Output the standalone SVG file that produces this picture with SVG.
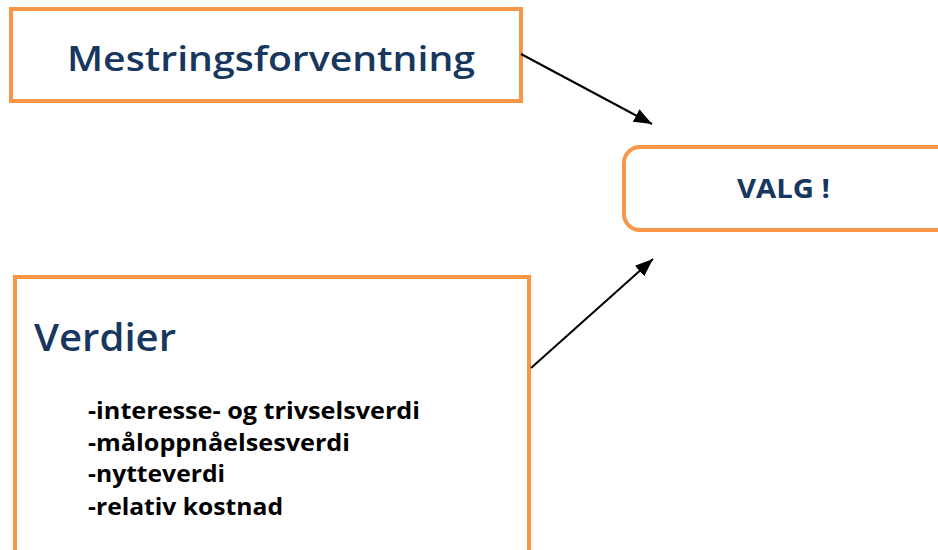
<svg xmlns="http://www.w3.org/2000/svg" width="938" height="550" viewBox="0 0 938 550">
<defs>
<style>
.box{fill:#fff;stroke:#F79646;stroke-width:4}
.title{font-family:"Open Sans","Liberation Sans",sans-serif;font-weight:600;fill:#17375E}
.title.b{font-weight:bold}
.item{font-family:"Open Sans","Liberation Sans",sans-serif;font-weight:bold;font-size:24px;fill:#000}
.conn{stroke:#000;stroke-width:2;fill:none;marker-end:url(#arr)}
</style>
<marker id="arr" markerUnits="userSpaceOnUse" markerWidth="20" markerHeight="20" viewBox="0 0 20 20" refX="18" refY="10" orient="auto">
<path d="M0,3 L18,10 L0,17 Z" fill="#000"/>
</marker>
</defs>
<rect width="938" height="550" fill="#fff"/>
<g id="mestring">
<rect class="box" x="11" y="9" width="510" height="92"/>
<text class="title" x="67" y="71" font-size="35" textLength="408" lengthAdjust="spacingAndGlyphs">Mestringsforventning</text>
</g>
<g id="valg">
<rect class="box" x="624" y="147" width="330" height="83" rx="16"/>
<text class="title b" x="737" y="198" font-size="27" textLength="93" lengthAdjust="spacingAndGlyphs">VALG !</text>
</g>
<g id="verdier">
<rect class="box" x="15" y="277" width="514" height="300"/>
<text class="title" x="34" y="351" font-size="37" textLength="142" lengthAdjust="spacingAndGlyphs">Verdier</text>
<text class="item" x="88" y="419" textLength="332" lengthAdjust="spacingAndGlyphs">-interesse- og trivselsverdi</text>
<text class="item" x="88" y="451" textLength="262" lengthAdjust="spacingAndGlyphs">-måloppnåelsesverdi</text>
<text class="item" x="88" y="482" textLength="137" lengthAdjust="spacingAndGlyphs">-nytteverdi</text>
<text class="item" x="88" y="515" textLength="195" lengthAdjust="spacingAndGlyphs">-relativ kostnad</text>
</g>
<g id="connectors">
<line class="conn" x1="521" y1="54" x2="652" y2="124"/>
<line class="conn" x1="531" y1="368" x2="653" y2="259"/>
</g>
</svg>
